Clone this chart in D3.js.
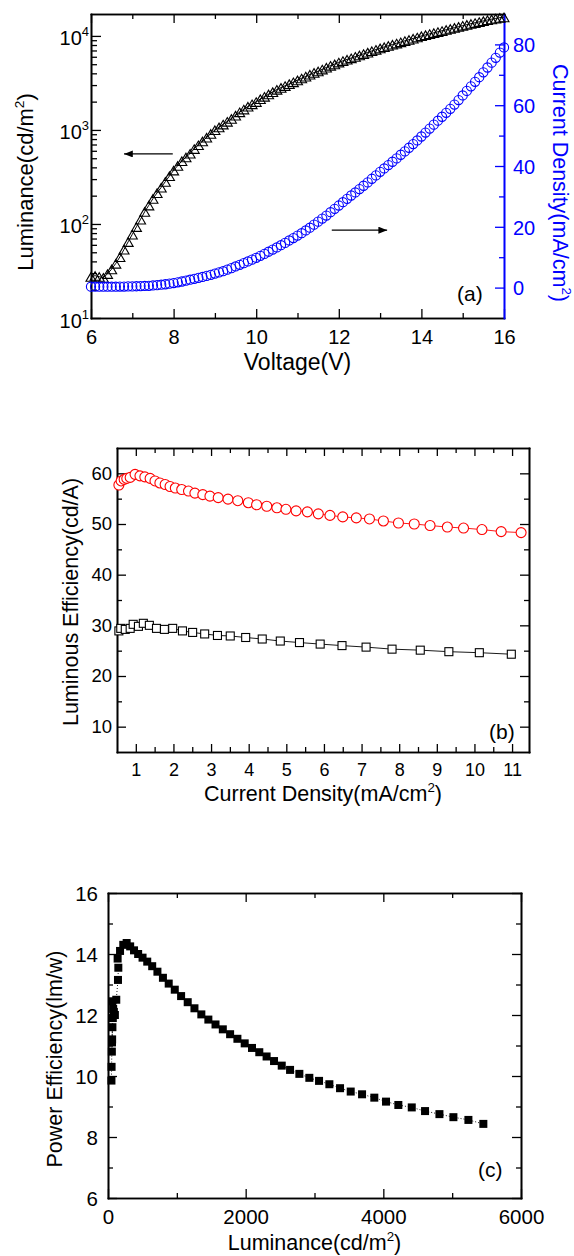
<!DOCTYPE html>
<html><head><meta charset="utf-8">
<script src="https://cdn.jsdelivr.net/npm/d3@7"></script>
<style>body{margin:0;background:#fff}svg{display:block}</style>
</head><body><svg id="c" width="574" height="1256"></svg>
<script>
// ---------- Panel (a): luminance & current density vs voltage ----------
const voltage = [6.0,6.1,6.2,6.3,6.4,6.5,6.6,6.7,6.8,6.9,7.0,7.1,7.2,7.3,7.4,7.5,7.6,7.7,7.8,7.9,8.0,8.1,8.2,8.3,8.4,8.5,8.6,8.7,8.8,8.9,9.0,9.1,9.2,9.3,9.4,9.5,9.6,9.7,9.8,9.9,10.0,10.1,10.2,10.3,10.4,10.5,10.6,10.7,10.8,10.9,11.0,11.1,11.2,11.3,11.4,11.5,11.6,11.7,11.8,11.9,12.0,12.1,12.2,12.3,12.4,12.5,12.6,12.7,12.8,12.9,13.0,13.1,13.2,13.3,13.4,13.5,13.6,13.7,13.8,13.9,14.0,14.1,14.2,14.3,14.4,14.5,14.6,14.7,14.8,14.9,15.0,15.1,15.2,15.3,15.4,15.5,15.6,15.7,15.8,15.9,16.0];
const luminance = [27.5,28.2,27.5,26.9,29.5,33.1,38.0,44.7,53.7,64.6,77.6,93.3,112,135,158,186,214,245,282,324,372,417,468,513,562,631,692,759,832,912,1000,1072,1148,1230,1318,1429,1549,1660,1778,1884,1995,2138,2265,2399,2541,2692,2818,2951,3090,3236,3388,3548,3715,3890,4074,4217,4416,4624,4842,5012,5248,5433,5623,5821,6026,6237,6457,6683,6918,7161,7413,7638,7870,8110,8356,8610,8872,9120,9397,9683,10000,10257,10520,10789,11066,11350,11641,11940,12246,12560,12882,13183,13490,13804,14125,14454,14791,15066,15346,15631,15849];
const currentDensity = [0.3,0.3,0.3,0.3,0.3,0.3,0.3,0.35,0.35,0.4,0.4,0.45,0.5,0.55,0.6,0.7,0.8,0.95,1.1,1.3,1.5,1.75,2.0,2.3,2.6,2.9,3.2,3.5,3.85,4.2,4.6,5.0,5.4,5.9,6.4,6.95,7.5,8.05,8.6,9.2,9.8,10.45,11.1,11.8,12.5,13.2,13.95,14.7,15.5,16.3,17.1,17.9,18.8,19.7,20.7,21.7,22.7,23.7,24.8,25.9,27.0,28.1,29.2,30.3,31.3,32.4,33.5,34.6,35.8,36.9,38.1,39.2,40.3,41.4,42.5,43.7,44.8,46.0,47.2,48.4,49.7,51.0,52.3,53.6,54.9,56.2,57.5,58.8,60.2,61.7,63.2,64.7,66.2,67.7,69.2,70.8,72.4,74.0,75.6,77.3,79.0];
// arrows in data space: [x1, x2, y]
const arrowLum = [7.98, 6.8, 556];
const arrowJ = [11.83, 13.17, 18.9];

// ---------- Panel (b): luminous efficiency vs current density ----------
const redJ = [0.55,0.61,0.69,0.76,0.85,0.98,1.11,1.24,1.38,1.51,1.64,1.78,1.91,2.05,2.22,2.40,2.57,2.78,2.97,3.19,3.45,3.71,3.99,4.21,4.48,4.75,4.99,5.26,5.56,5.85,6.16,6.50,6.86,7.21,7.58,7.98,8.40,8.82,9.28,9.71,10.20,10.71,11.24];
const redEff = [57.7,58.5,58.8,59.0,59.2,59.8,59.5,59.3,59.0,58.5,58.1,57.8,57.4,57.1,56.8,56.5,56.1,55.8,55.5,55.2,54.9,54.6,54.2,53.8,53.5,53.2,52.9,52.6,52.4,52.0,51.7,51.4,51.2,51.0,50.6,50.2,50.0,49.7,49.4,49.2,48.9,48.5,48.3];
const blkJ = [0.55,0.60,0.72,0.85,0.93,1.07,1.20,1.36,1.55,1.76,1.98,2.24,2.51,2.83,3.17,3.51,3.92,4.36,4.84,5.35,5.90,6.48,7.12,7.81,8.56,9.32,10.13,10.98];
const blkEff = [28.9,29.4,29.2,29.4,30.2,29.8,30.4,30.0,29.4,29.2,29.4,28.9,28.6,28.3,28.0,27.9,27.6,27.3,26.9,26.6,26.3,26.0,25.7,25.3,25.1,24.8,24.6,24.3];

// ---------- Panel (c): power efficiency vs luminance ----------
const lumC = [50,52,56,60,64,58,70,75,62,85,100,120,145,150,140,175,222,271,322,378,438,502,570,642,718,798,882,970,1062,1158,1256,1356,1458,1562,1668,1774,1880,1986,2092,2198,2304,2412,2524,2645,2780,2925,3066,3216,3371,3526,3691,3869,4039,4218,4413,4606,4815,5018,5236,5453];
const powerEff = [9.85,10.3,10.8,11.2,11.6,11.1,11.9,12.2,12.45,12.1,12.0,12.5,13.15,13.55,13.85,14.1,14.3,14.36,14.25,14.12,14.0,13.88,13.75,13.6,13.42,13.22,13.03,12.83,12.62,12.42,12.22,12.02,11.85,11.69,11.53,11.37,11.22,11.07,10.92,10.78,10.64,10.49,10.34,10.2,10.07,9.94,9.84,9.73,9.60,9.49,9.40,9.29,9.16,9.05,8.97,8.85,8.75,8.65,8.56,8.43];

// ---------- tick values ----------
const aVoltTicks = [6,8,10,12,14,16], aVoltMinor = [7,9,11,13,15];
const aLumTicks = [10,100,1000,10000];
const aLumMinor = [20,30,40,50,60,70,80,90,200,300,400,500,600,700,800,900,2000,3000,4000,5000,6000,7000,8000,9000];
const aJTicks = [0,20,40,60,80], aJMinor = [10,30,50,70];
const bJTicks = [1,2,3,4,5,6,7,8,9,10,11], bJMinor = [1.5,2.5,3.5,4.5,5.5,6.5,7.5,8.5,9.5,10.5];
const bEffTicks = [10,20,30,40,50,60], bEffMinor = [15,25,35,45,55];
const cLumTicks = [0,2000,4000,6000], cLumMinor = [1000,3000,5000];
const cPETicks = [6,8,10,12,14,16], cPEMinor = [7,9,11,13,15];

const FONT = '"Liberation Sans", Arial, Helvetica, sans-serif';
const svg = d3.select('#c');

function drawAxis(tx, ty, axis, o) {
  const col = o.color || '#000';
  const g = svg.append('g').attr('transform', `translate(${tx},${ty})`).call(axis);
  g.select('.domain').attr('stroke', col).attr('stroke-width', 1.6).attr('stroke-linecap','square');
  g.selectAll('.tick line').attr('stroke', col).attr('stroke-width', 1.3);
  g.selectAll('.tick text').attr('fill', col).attr('font-size', o.fs || 20).attr('font-family', FONT);
  if (o.dy) g.selectAll('.tick text').attr('dy', o.dy);
  return g;
}
function rich(x, y, parts, fs, o = {}) {
  const t = svg.append('text').attr('font-family', FONT).attr('font-size', fs)
    .attr('fill', o.color || '#000').attr('text-anchor', o.anchor || 'middle');
  if (o.rotate) t.attr('transform', `translate(${x},${y}) rotate(${o.rotate})`);
  else t.attr('x', x).attr('y', y);
  let shifted = 0;
  parts.forEach(p => {
    const s = t.append('tspan').text(p.t);
    if (p.sup) { s.attr('font-size', fs * 0.62).attr('dy', -fs * 0.42); shifted = fs * 0.42; }
    else if (shifted) { s.attr('dy', shifted); shifted = 0; }
  });
  return t;
}
function frameAxes(x, y, o) {
  const [y0, y1] = y.range(); // y0 bottom, y1 top
  drawAxis(0, y0, d3.axisBottom(x).tickValues(o.xMinor).tickSize(-5).tickSizeOuter(0).tickFormat(''), o);
  drawAxis(0, y0, d3.axisBottom(x).tickValues(o.xTicks).tickSize(-o.maj).tickSizeOuter(0).tickPadding(o.xPad).tickFormat(d3.format('d')), o);
  drawAxis(0, y1, d3.axisTop(x).tickValues(o.xMinor).tickSize(-5).tickSizeOuter(0).tickFormat(''), o);
  drawAxis(0, y1, d3.axisTop(x).tickValues(o.xTicks).tickSize(-o.maj).tickSizeOuter(0).tickFormat(''), o);
}

// ================= Panel (a) =================
const xA = d3.scaleLinear([6, 16], [91, 504]);
const yA = d3.scaleLog([10, 17100], [318, 14]);
const yA2 = d3.scaleLinear([-10, 90], [318, 14]);

frameAxes(xA, yA, {xTicks: aVoltTicks, xMinor: aVoltMinor, maj: 9, xPad: 12, fs: 20});
drawAxis(91, 0, d3.axisLeft(yA).tickValues(aLumMinor).tickSize(-6).tickSizeOuter(0).tickFormat(''), {});
const gLum = drawAxis(91, 0, d3.axisLeft(yA).tickValues(aLumTicks).tickSize(-10).tickSizeOuter(0).tickPadding(2), {fs: 20, dy: '0.45em'});
gLum.selectAll('.tick text').each(function (d) {
  const t = d3.select(this); t.text(null);
  t.append('tspan').text('10');
  t.append('tspan').attr('font-size', 13).attr('dy', -9).text(String(Math.round(Math.log10(d))));
});
drawAxis(504, 0, d3.axisRight(yA2).tickValues(aJMinor).tickSize(-5).tickSizeOuter(0).tickFormat(''), {color: '#0000ff'});
drawAxis(504, 0, d3.axisRight(yA2).tickValues(aJTicks).tickSize(-9).tickSizeOuter(0).tickPadding(9), {color: '#0000ff', fs: 20, dy: '0.36em'});

// luminance line + open triangles
const lumPts = voltage.map((v, i) => [v, luminance[i]]);
svg.append('path').datum(lumPts)
  .attr('d', d3.line().x(d => xA(d[0])).y(d => yA(d[1])))
  .attr('fill', 'none').attr('stroke', '#000').attr('stroke-width', 1);
svg.append('g').selectAll('path').data(lumPts).join('path')
  .attr('transform', d => `translate(${xA(d[0])},${yA(d[1])})`)
  .attr('d', 'M0,-4L5,4.6L-5,4.6Z')
  .attr('fill', 'none').attr('stroke', '#000').attr('stroke-width', 1.1);
// current density open circles
svg.append('g').selectAll('circle').data(voltage.map((v, i) => [v, currentDensity[i]])).join('circle')
  .attr('cx', d => xA(d[0])).attr('cy', d => yA2(d[1])).attr('r', 4.6)
  .attr('fill', 'none').attr('stroke', '#0000ff').attr('stroke-width', 1.1);

// arrows
const defs = svg.append('defs');
defs.append('marker').attr('id', 'ah').attr('viewBox', '0 0 10 8').attr('refX', 10).attr('refY', 4)
  .attr('markerWidth', 11).attr('markerHeight', 7).attr('markerUnits', 'userSpaceOnUse').attr('orient', 'auto')
  .append('path').attr('d', 'M0,0L10,4L0,8Z').attr('fill', '#000');
svg.append('line').attr('x1', xA(arrowLum[0])).attr('x2', xA(arrowLum[1]))
  .attr('y1', yA(arrowLum[2])).attr('y2', yA(arrowLum[2]))
  .attr('stroke', '#000').attr('stroke-width', 1.3).attr('marker-end', 'url(#ah)');
svg.append('line').attr('x1', xA(arrowJ[0])).attr('x2', xA(arrowJ[1]))
  .attr('y1', yA2(arrowJ[2])).attr('y2', yA2(arrowJ[2]))
  .attr('stroke', '#000').attr('stroke-width', 1.3).attr('marker-end', 'url(#ah)');

rich(297.5, 370, [{t: 'Voltage(V)'}], 23);
rich(33, 182, [{t: 'Luminance(cd/m'}, {t: '2', sup: true}, {t: ')'}], 22);
d3.select(svg.node().lastChild).attr('transform', 'translate(33,182) rotate(-90)').attr('x', null).attr('y', null);
rich(553, 183, [{t: 'Current Density(mA/cm'}, {t: '2', sup: true}, {t: ')'}], 21.5, {rotate: 90, color: '#0000ff'});
rich(457, 301, [{t: '(a)'}], 21, {anchor: 'start'});

// ================= Panel (b) =================
const xB = d3.scaleLinear([0.5, 11.45], [117, 529]);
const yB = d3.scaleLinear([5, 65], [752, 448]);
frameAxes(xB, yB, {xTicks: bJTicks, xMinor: bJMinor, maj: 8, xPad: 11, fs: 18});
drawAxis(117, 0, d3.axisLeft(yB).tickValues(bEffMinor).tickSize(-5).tickSizeOuter(0).tickFormat(''), {});
drawAxis(117, 0, d3.axisLeft(yB).tickValues(bEffTicks).tickSize(-9).tickSizeOuter(0).tickPadding(5), {fs: 18.5});
drawAxis(529, 0, d3.axisRight(yB).tickValues(bEffMinor).tickSize(-5).tickSizeOuter(0).tickFormat(''), {});
drawAxis(529, 0, d3.axisRight(yB).tickValues(bEffTicks).tickSize(-9).tickSizeOuter(0).tickFormat(''), {});

const redPts = redJ.map((v, i) => [v, redEff[i]]);
const blkPts = blkJ.map((v, i) => [v, blkEff[i]]);
const lineB = d3.line().x(d => xB(d[0])).y(d => yB(d[1]));
svg.append('path').datum(redPts).attr('d', lineB).attr('fill', 'none').attr('stroke', '#ff0000').attr('stroke-width', 0.9);
svg.append('path').datum(blkPts).attr('d', lineB).attr('fill', 'none').attr('stroke', '#000').attr('stroke-width', 0.9);
svg.append('g').selectAll('circle').data(redPts).join('circle')
  .attr('cx', d => xB(d[0])).attr('cy', d => yB(d[1])).attr('r', 5)
  .attr('fill', '#fff').attr('stroke', '#ff0000').attr('stroke-width', 1.1);
svg.append('g').selectAll('rect').data(blkPts).join('rect')
  .attr('x', d => xB(d[0]) - 4).attr('y', d => yB(d[1]) - 4).attr('width', 8).attr('height', 8)
  .attr('fill', '#fff').attr('stroke', '#000').attr('stroke-width', 1.1);

rich(323, 801, [{t: 'Current Density(mA/cm'}, {t: '2', sup: true}, {t: ')'}], 21.5);
rich(78, 602, [{t: 'Luminous Efficiency(cd/A)'}], 21.5, {rotate: -90});
rich(489, 739, [{t: '(b)'}], 21, {anchor: 'start'});

// ================= Panel (c) =================
const xC = d3.scaleLinear([0, 6000], [108, 521]);
const yC = d3.scaleLinear([6, 16], [1198, 893]);
frameAxes(xC, yC, {xTicks: cLumTicks, xMinor: cLumMinor, maj: 9, xPad: 11, fs: 20.5});
drawAxis(108, 0, d3.axisLeft(yC).tickValues(cPEMinor).tickSize(-5).tickSizeOuter(0).tickFormat(''), {});
drawAxis(108, 0, d3.axisLeft(yC).tickValues(cPETicks).tickSize(-9).tickSizeOuter(0).tickPadding(10), {fs: 20.5, dy: '0.36em'});
drawAxis(521, 0, d3.axisRight(yC).tickValues(cPEMinor).tickSize(-5).tickSizeOuter(0).tickFormat(''), {});
drawAxis(521, 0, d3.axisRight(yC).tickValues(cPETicks).tickSize(-9).tickSizeOuter(0).tickFormat(''), {});

const cPts = lumC.map((v, i) => [v, powerEff[i]]);
svg.append('path').datum(cPts).attr('d', d3.line().x(d => xC(d[0])).y(d => yC(d[1])))
  .attr('fill', 'none').attr('stroke', '#000').attr('stroke-width', 0.9).attr('stroke-dasharray', '1,2');
svg.append('g').selectAll('rect').data(cPts).join('rect')
  .attr('x', d => xC(d[0]) - 4).attr('y', d => yC(d[1]) - 4).attr('width', 8).attr('height', 8)
  .attr('fill', '#000');

rich(314.5, 1250, [{t: 'Luminance(cd/m'}, {t: '2', sup: true}, {t: ')'}], 21.5);
rich(62, 1059, [{t: 'Power Efficiency(lm/w)'}], 21.5, {rotate: -90});
rich(478, 1177, [{t: '(c)'}], 21, {anchor: 'start'});
</script></body></html>
